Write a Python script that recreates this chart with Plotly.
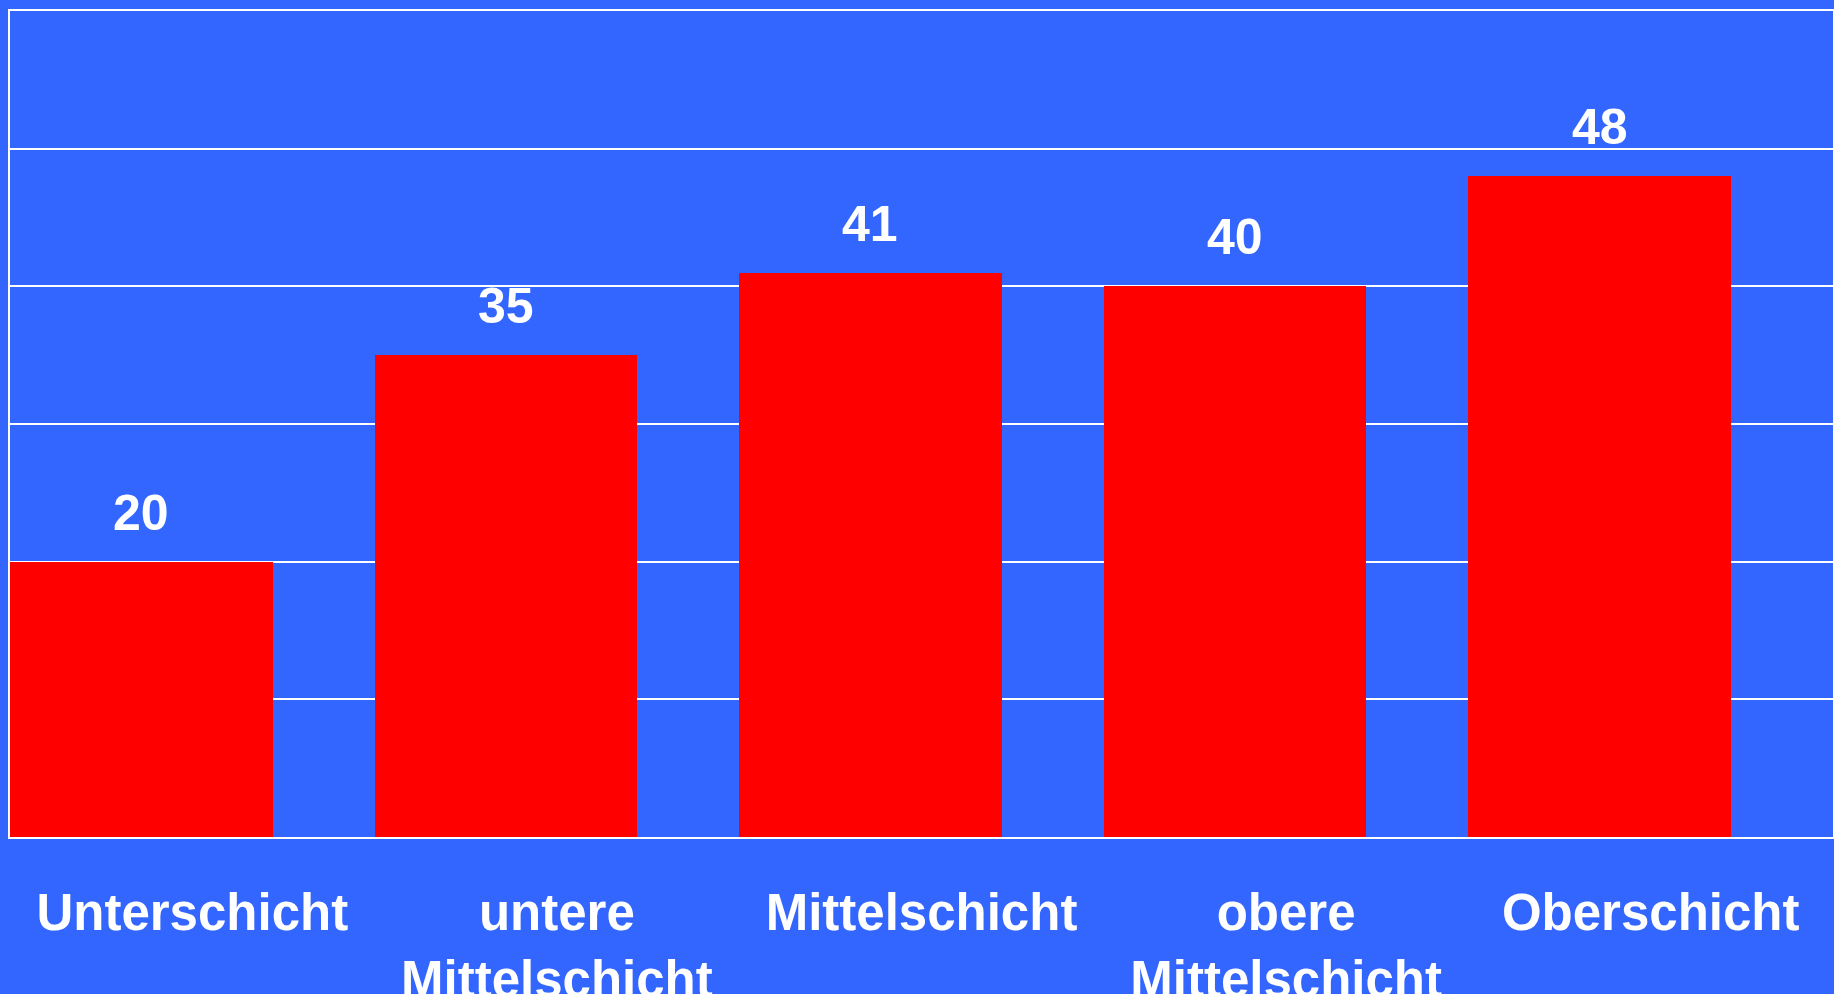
import plotly.graph_objects as go

categories = ["Unterschicht", "untere<br>Mittelschicht", "Mittelschicht", "obere<br>Mittelschicht", "Oberschicht"]
values = [20, 35, 41, 40, 48]
positions = list(range(len(categories)))

BG = "#3366FF"
BAR = "#FF0000"
FONT = "Liberation Sans, Arial, Helvetica, sans-serif"
BAR_WIDTH = 0.72
BAR_OFFSET = -0.5

fig = go.Figure()
fig.add_trace(go.Bar(
    x=positions, y=values,
    width=BAR_WIDTH, offset=BAR_OFFSET,
    marker=dict(color=BAR, line=dict(width=0)),
    hoverinfo="skip",
))

for p, v in zip(positions, values):
    fig.add_annotation(
        x=p + BAR_OFFSET + BAR_WIDTH / 2, y=v, xref="x", yref="y",
        text=str(v), showarrow=False, yanchor="bottom", yshift=19,
        font=dict(family=FONT, size=50, color="white", weight="bold"),
    )

fig.update_layout(
    width=1834, height=994,
    margin=dict(l=10, r=1, t=11, b=157, autoexpand=False),
    paper_bgcolor=BG, plot_bgcolor=BG,
    showlegend=False,
    bargap=0,
)
fig.update_xaxes(
    range=[-0.5, 4.5], tickvals=positions, ticktext=categories,
    showgrid=False, showline=True, linecolor="white", linewidth=2, mirror=True,
    ticks="", ticklabelstandoff=30, automargin=False,
    tickfont=dict(family=FONT, size=51, color="white", weight="bold"),
    zeroline=False,
)
fig.update_yaxes(
    range=[0, 60], dtick=10, showticklabels=False, automargin=False,
    showgrid=True, gridcolor="white", gridwidth=2,
    showline=True, linecolor="white", linewidth=2, mirror=True,
    zeroline=False, ticks="",
)

post = (
    "document.documentElement.style.margin='0';"
    "document.body.style.margin='0';"
    "document.body.style.overflow='hidden';"
    "document.body.style.background='" + BG + "';"
    "var gd=document.getElementById('{plot_id}');"
    "Plotly.relayout(gd,{width:1834,height:994});"
)
fig.write_html("out.html", post_script=post, config={"displayModeBar": False})
